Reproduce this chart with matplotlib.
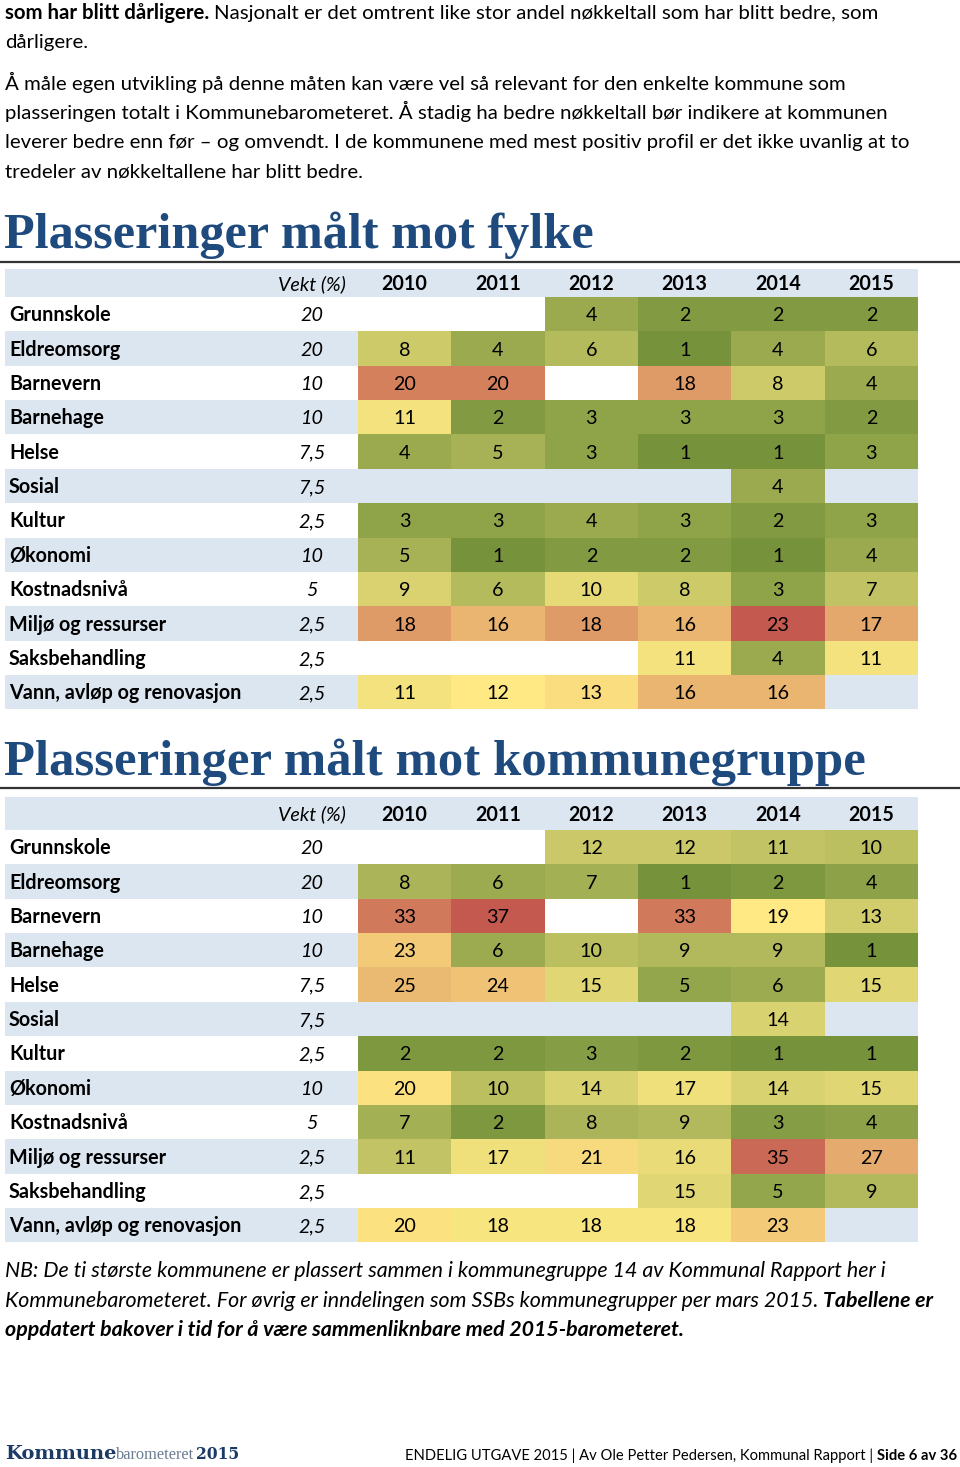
import matplotlib
matplotlib.use("Agg")
import matplotlib.pyplot as plt
import numpy as np
from matplotlib.colors import LinearSegmentedColormap, Normalize
from matplotlib.lines import Line2D

# --- data ---
years = ["2010", "2011", "2012", "2013", "2014", "2015"]
categories = ["Grunnskole", "Eldreomsorg", "Barnevern", "Barnehage", "Helse", "Sosial",
              "Kultur", "Økonomi", "Kostnadsnivå", "Miljø og ressurser",
              "Saksbehandling", "Vann, avløp og renovasjon"]
weights = ["20", "20", "10", "10", "7,5", "7,5", "2,5", "10", "5", "2,5", "2,5", "2,5"]

rank_fylke = [
    [None, None, 4, 2, 2, 2],
    [8, 4, 6, 1, 4, 6],
    [20, 20, None, 18, 8, 4],
    [11, 2, 3, 3, 3, 2],
    [4, 5, 3, 1, 1, 3],
    [None, None, None, None, 4, None],
    [3, 3, 4, 3, 2, 3],
    [5, 1, 2, 2, 1, 4],
    [9, 6, 10, 8, 3, 7],
    [18, 16, 18, 16, 23, 17],
    [None, None, None, 11, 4, 11],
    [11, 12, 13, 16, 16, None],
]
rank_gruppe = [
    [None, None, 12, 12, 11, 10],
    [8, 6, 7, 1, 2, 4],
    [33, 37, None, 33, 19, 13],
    [23, 6, 10, 9, 9, 1],
    [25, 24, 15, 5, 6, 15],
    [None, None, None, None, 14, None],
    [2, 2, 3, 2, 1, 1],
    [20, 10, 14, 17, 14, 15],
    [7, 2, 8, 9, 3, 4],
    [11, 17, 21, 16, 35, 27],
    [None, None, None, 15, 5, 9],
    [20, 18, 18, 18, 23, None],
]

W, H = 960, 1467
SANS = "Lato"
NAVY = "#1F4A7E"
BAND = "#DCE6F1"
CMAP = LinearSegmentedColormap.from_list("gyr", ["#76933C", "#FFEA84", "#C4594F"])

fig = plt.figure(figsize=(W / 100, H / 100), dpi=100)
renderer = fig.canvas.get_renderer()


def put(x, y, s, fs, **kw):
    kw.setdefault("family", SANS)
    return fig.text(x / W, 1 - y / H, s, fontsize=fs, va="baseline", **kw)


def text_w(t):
    return t.get_window_extent(renderer).width


def fit(s, target, **kw):
    t = put(0, 0, s, 10, **kw)
    w = text_w(t)
    t.remove()
    return 10 * target / w


def space_w(fs, **kw):
    a = put(0, 0, "x x", fs, **kw)
    b = put(0, 0, "xx", fs, **kw)
    w = text_w(a) - text_w(b)
    a.remove()
    b.remove()
    return w


def run(x, y, parts, fs, color="black"):
    for k, (s, kw) in enumerate(parts):
        if k:
            x += space_w(fs, **kw)
        t = put(x, y, s, fs, color=color, **kw)
        x += text_w(t)


# --- intro text ---
body_fs = fit("plasseringen totalt i Kommunebarometeret. Å stadig ha bedre nøkkeltall bør indikere at kommunen", 884)
run(5, 19, [("som har blitt dårligere.", {"weight": "bold"}),
            ("Nasjonalt er det omtrent like stor andel nøkkeltall som har blitt bedre, som", {})], body_fs)
put(5, 48, "dårligere.", body_fs)
put(5, 90, "Å måle egen utvikling på denne måten kan være vel så relevant for den enkelte kommune som", body_fs)
put(5, 119, "plasseringen totalt i Kommunebarometeret. Å stadig ha bedre nøkkeltall bør indikere at kommunen", body_fs)
put(5, 148, "leverer bedre enn før – og omvendt. I de kommunene med mest positiv profil er det ikke uvanlig at to", body_fs)
put(5, 178, "tredeler av nøkkeltallene har blitt bedre.", body_fs)

# --- table helpers ---
ROW = 34.36
COL = (918 - 358) / 6
cell_fs = fit("Vann, avløp og renovasjon", 232, weight="bold")


def draw_table(title, title_w, title_base, line_y, top, hdr_px, values):
    tfs = fit(title, title_w, family="Liberation Serif", weight="bold")
    put(4, title_base, title, tfs, family="Liberation Serif", weight="bold", color=NAVY)
    fig.add_artist(Line2D([0, 959 / W], [1 - line_y / H] * 2, transform=fig.transFigure,
                          color="#333333", lw=1.6))

    height = hdr_px + 12 * ROW
    ax = fig.add_axes([5 / W, 1 - (top + height) / H, (918 - 5) / W, height / H])
    hdr = hdr_px / ROW
    ax.set_xlim(-(358 - 5) / COL, 6)
    ax.set_ylim(12, -hdr)
    ax.axis("off")

    ax.axhspan(-hdr, 0, color=BAND, lw=0, zorder=0)
    for i in range(1, 12, 2):
        ax.axhspan(i, i + 1, color=BAND, lw=0, zorder=0)

    arr = np.array([[np.nan if v is None else v for v in row] for row in values], float)
    norm = Normalize(np.nanmin(arr), np.nanmax(arr))
    ax.pcolormesh(np.arange(7), np.arange(13), np.ma.masked_invalid(arr),
                  cmap=CMAP, norm=norm, zorder=1)

    off = cell_fs / 2 / ROW
    lab_x = (9 - 358) / COL
    vekt_x = (312 - 358) / COL
    ax.text(vekt_x, -hdr / 2 + off, "Vekt (%)", ha="center", va="baseline",
            fontsize=cell_fs, style="italic", family=SANS, zorder=2)
    for j, yr in enumerate(years):
        ax.text(j + 0.5, -hdr / 2 + off, yr, ha="center", va="baseline",
                fontsize=cell_fs, weight="bold", family=SANS, zorder=2)
    for i, cat in enumerate(categories):
        yc = i + 0.5 + off
        ax.text(lab_x, yc, cat, ha="left", va="baseline", fontsize=cell_fs,
                weight="bold", family=SANS, zorder=2)
        ax.text(vekt_x, yc, weights[i], ha="center", va="baseline", fontsize=cell_fs,
                style="italic", family=SANS, zorder=2)
        for j, v in enumerate(values[i]):
            if v is not None:
                ax.text(j + 0.5, yc, str(v), ha="center", va="baseline",
                        fontsize=cell_fs, family=SANS, zorder=2)


draw_table("Plasseringer målt mot fylke", 592, 248, 262, 269, 28, rank_fylke)
draw_table("Plasseringer målt mot kommunegruppe", 865, 775, 788, 797, 33, rank_gruppe)

# --- footnote ---
note_fs = fit("NB: De ti største kommunene er plassert sammen i kommunegruppe 14 av Kommunal Rapport her i",
              880, style="italic")
put(5, 1277, "NB: De ti største kommunene er plassert sammen i kommunegruppe 14 av Kommunal Rapport her i",
    note_fs, style="italic")
run(5, 1307, [("Kommunebarometeret. For øvrig er inndelingen som SSBs kommunegrupper per mars 2015.",
               {"style": "italic"}),
              ("Tabellene er", {"style": "italic", "weight": "bold"})], note_fs)
put(5, 1336, "oppdatert bakover i tid for å være sammenliknbare med 2015-barometeret.",
    note_fs, style="italic", weight="bold")

# --- footer ---
logo_fs = fit("Kommune", 112, family="DejaVu Serif", weight="bold")
t = put(5, 1459, "Kommune", logo_fs, family="DejaVu Serif", weight="bold", color="#1B3A66")
x = 5 + text_w(t)
baro_fs = fit("barometeret", 78, family="Liberation Serif")
t = put(x, 1459, "barometeret", baro_fs, family="Liberation Serif", color="#6B7C92")
x += text_w(t)
put(x + 1, 1459, "2015", baro_fs * 0.95, family="DejaVu Serif", weight="bold", color="#1B3A66")

foot_fs = fit("ENDELIG UTGAVE 2015 | Av Ole Petter Pedersen, Kommunal Rapport | Side 6 av 36", 550)
b = put(957, 1460, "Side 6 av 36", foot_fs, weight="bold", ha="right")
put(957 - text_w(b) - space_w(foot_fs), 1460,
    "ENDELIG UTGAVE 2015 | Av Ole Petter Pedersen, Kommunal Rapport |", foot_fs, ha="right")

fig.savefig("out.png", dpi=100)
